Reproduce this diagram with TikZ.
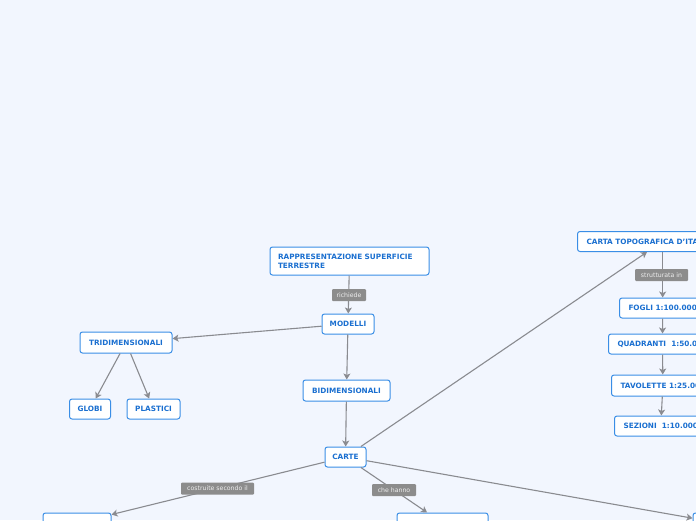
\documentclass[tikz,border=0pt]{standalone}
\usepackage{fontspec}
\setmainfont{DejaVu Sans}
\usetikzlibrary{arrows.meta}
\definecolor{bg}{HTML}{F2F6FE}
\definecolor{nodeborder}{HTML}{3A8EE6}
\definecolor{nodetext}{HTML}{1A6FD0}
\definecolor{connc}{HTML}{8A8B90}
\definecolor{lblfill}{HTML}{8C8C8C}
\definecolor{lbltext}{HTML}{EEEEEE}
\tikzset{
 topic/.style={draw=nodeborder, line width=1pt, fill=white, rounded corners=2.5pt, text=nodetext,
   font=\fontsize{7.3}{9}\selectfont\bfseries, inner xsep=0pt, inner ysep=0pt, minimum height=20pt},
 offtopic/.style={topic, anchor=west, inner xsep=9pt},
 edgelabel/.style={fill=lblfill, text=lbltext, font=\fontsize{6.2}{7}\selectfont, rounded corners=1pt,
   inner sep=0pt, minimum height=12pt},
 conn/.style={draw=connc, line width=1.1pt, -{Stealth[length=6pt,width=7pt,inset=1.5pt]}},
}
\begin{document}
\begin{tikzpicture}[x=1pt,y=-1pt]
\fill[bg] (0,0) rectangle (696,520);
\useasboundingbox (0,0) rectangle (696,520);
\clip (0,0) rectangle (696,520);
% nodes
\node[topic, minimum width=159pt, minimum height=28pt, text width=143pt, align=left] (rap) at (349.5,261) {RAPPRESENTAZIONE SUPERFICIE\\TERRESTRE};
\node[topic, minimum width=52pt] (modelli) at (348,324) {MODELLI};
\node[topic, minimum width=92pt, minimum height=21pt] (tri) at (126,342.5) {TRIDIMENSIONALI};
\node[topic, minimum width=41pt] (globi) at (90,409) {GLOBI};
\node[topic, minimum width=53pt] (plastici) at (153.5,409) {PLASTICI};
\node[topic, minimum width=87pt, minimum height=21pt] (bidi) at (346.5,390.5) {BIDIMENSIONALI};
\node[topic, minimum width=41pt] (carte) at (345.5,457) {CARTE};
\node[offtopic] (ct) at (577,241.5) {CARTA TOPOGRAFICA D'ITALIA};
\node[offtopic] (fogli) at (619,308) {FOGLI 1:100.000};
\node[offtopic] (quad) at (608,344) {QUADRANTI\ \ 1:50.000};
\node[offtopic, minimum height=21pt] (tav) at (611,385.5) {TAVOLETTE 1:25.000};
\node[offtopic] (sez) at (614,426) {SEZIONI\ \ 1:10.000};
\node[topic, minimum width=68pt] (bl) at (77,523) {};
\node[topic, minimum width=91pt] (bm) at (442.5,523) {};
\node[topic, minimum width=54pt] (br) at (720,523) {};
% connectors
\draw[conn] (rap) -- (modelli);
\draw[conn] (modelli) -- (tri);
\draw[conn] (tri) -- (globi);
\draw[conn] (tri) -- (plastici);
\draw[conn] (modelli) -- (bidi);
\draw[conn] (bidi) -- (carte);
\draw[conn] (carte) -- ([xshift=70pt]ct.south west);
\draw[conn] (carte) -- (bl);
\draw[conn] (carte) -- (bm);
\draw[conn] (carte) -- (br);
\draw[conn] (ct.south -| fogli) -- (fogli);
\draw[conn] (fogli) -- (quad);
\draw[conn] (quad) -- (tav);
\draw[conn] (tav) -- (sez);
% labels
\node[edgelabel, minimum width=34pt] (l1) at (349,295) {richiede};
\node[edgelabel, minimum width=53pt] (l2) at (661.5,275) {strutturata in};
\node[edgelabel, minimum width=73pt] (l3) at (217.5,488.5) {costruite secondo il};
\node[edgelabel, minimum width=44pt] (l4) at (394,490) {che hanno};
\end{tikzpicture}
\end{document}
